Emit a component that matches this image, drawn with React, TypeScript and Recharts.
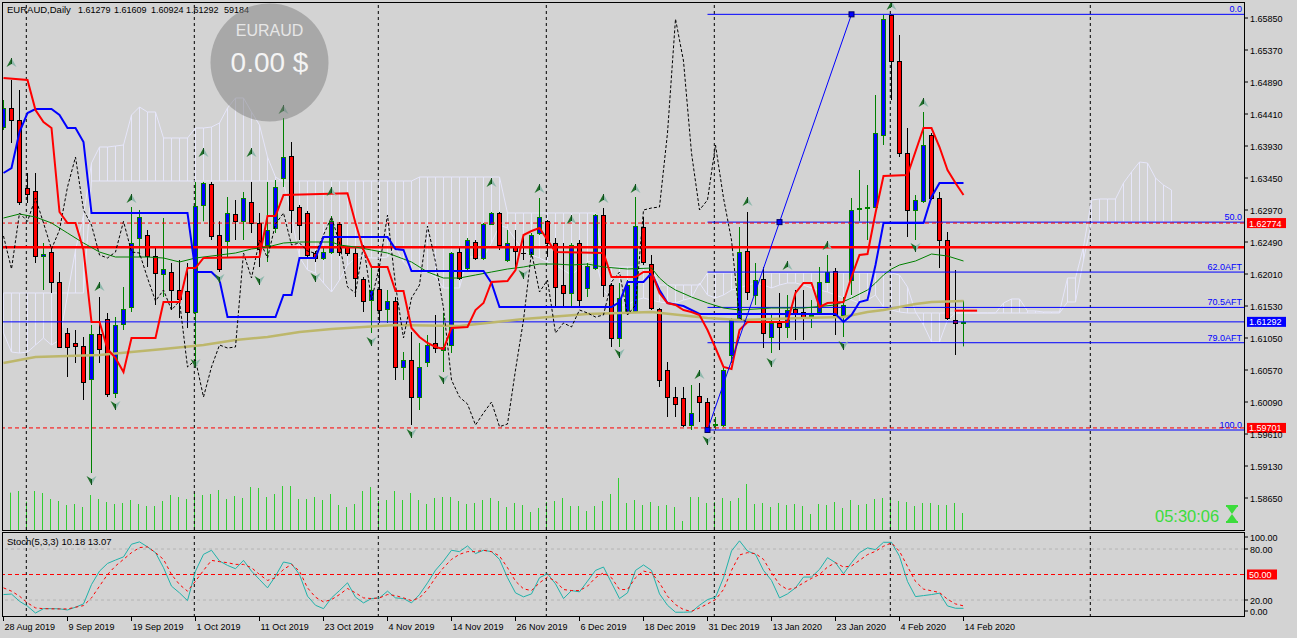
import React from "react";
import { ComposedChart, Bar, Line, XAxis, YAxis, ReferenceLine } from "recharts";

// EURAUD daily, MT4 style: candles + ichimoku + MAs + volumes, stochastic below

const BG = "#d3d3d3";
const FONT = "'Liberation Sans', Arial, sans-serif";
const KUMO = "#e6e6fa";

const CHART_W = 1297;
const MAIN_H = 531;
const STOCH_TOP = 532;
const STOCH_H = 106;
const AXIS_W = 53;
const X_DOMAIN: [number, number] = [-0.0625, 155.0625];
const PRICE_DOMAIN: [number, number] = [1.5817, 1.66075];
const VOL_DOMAIN: [number, number] = [0, 1834000];

const dateTicks = [0, 8, 16, 24, 32, 40, 48, 56, 64, 72, 80, 88, 96, 104, 112, 120];
const dateLabels = [
  "28 Aug 2019", "9 Sep 2019", "19 Sep 2019", "1 Oct 2019", "11 Oct 2019", "23 Oct 2019",
  "4 Nov 2019", "14 Nov 2019", "26 Nov 2019", "6 Dec 2019", "18 Dec 2019", "31 Dec 2019",
  "13 Jan 2020", "23 Jan 2020", "4 Feb 2020", "14 Feb 2020",
];
// first bar of each month (vertical grid)
const monthStarts = [3, 24, 47, 68, 89, 111, 136];

const priceTicks = [
  1.5865, 1.5913, 1.5961, 1.6009, 1.6057, 1.6105, 1.6153, 1.6201,
  1.6249, 1.6297, 1.6345, 1.6393, 1.6441, 1.6489, 1.6537, 1.6585,
];

// header: symbol, then O H L C and volume of the last bar
const headerParts = ["EURAUD,Daily", "1.61279", "1.61609", "1.60924", "1.61292", "59184"];
const headerX = [7, 78, 114, 151, 186, 224];

// open, high, low, close
const candles: number[][] = [
  [1.64215, 1.6462, 1.6417, 1.645], [1.645, 1.6492, 1.63975, 1.6432], [1.6432, 1.6477, 1.63045, 1.6309],
  [1.633, 1.63525, 1.63075, 1.6321], [1.63255, 1.63525, 1.62175, 1.6228], [1.6228, 1.62475, 1.6177, 1.6231],
  [1.6234, 1.62415, 1.61725, 1.6189], [1.6189, 1.6204, 1.609, 1.60915], [1.61125, 1.612, 1.60465, 1.60915],
  [1.60975, 1.6117, 1.60675, 1.6093], [1.6093, 1.61065, 1.6012, 1.6039], [1.60435, 1.61245, 1.59025, 1.6111],
  [1.6111, 1.61665, 1.60675, 1.60885], [1.61335, 1.61425, 1.60165, 1.6021], [1.60225, 1.61365, 1.6015, 1.61245],
  [1.6126, 1.61815, 1.6117, 1.61485], [1.61515, 1.63015, 1.6144, 1.62475], [1.6255, 1.6297, 1.62265, 1.62865],
  [1.62595, 1.6267, 1.62115, 1.6228], [1.6228, 1.62415, 1.61545, 1.62025], [1.6201, 1.6285, 1.61665, 1.62085],
  [1.6204, 1.62175, 1.6147, 1.6177], [1.6177, 1.6222, 1.6135, 1.61635], [1.61755, 1.62175, 1.612, 1.6144],
  [1.6144, 1.6339, 1.60615, 1.6303], [1.63045, 1.6339, 1.628, 1.63375], [1.6336, 1.6339, 1.6252, 1.6258],
  [1.62595, 1.628, 1.6204, 1.62085], [1.62505, 1.63165, 1.62265, 1.62925], [1.6291, 1.6312, 1.6252, 1.628],
  [1.628, 1.6324, 1.6252, 1.6315], [1.6309, 1.6339, 1.62625, 1.62775], [1.62775, 1.62925, 1.62115, 1.62385],
  [1.62445, 1.6339, 1.6219, 1.6267], [1.627, 1.6342, 1.62625, 1.63315], [1.6345, 1.6435, 1.63315, 1.63765],
  [1.6378, 1.6399, 1.62625, 1.6297], [1.63015, 1.63045, 1.6252, 1.62745], [1.62925, 1.62955, 1.62265, 1.62295],
  [1.62325, 1.62355, 1.6219, 1.6225], [1.6225, 1.62415, 1.6222, 1.6234], [1.6234, 1.6288, 1.6231, 1.628],
  [1.6276, 1.6279, 1.6228, 1.6234], [1.62415, 1.6243, 1.6228, 1.62325], [1.62325, 1.624, 1.61665, 1.6195],
  [1.61935, 1.61965, 1.6144, 1.61605], [1.6162, 1.621, 1.61125, 1.6177], [1.61785, 1.621, 1.61275, 1.6147],
  [1.61485, 1.6177, 1.61275, 1.61605], [1.61605, 1.61665, 1.6042, 1.60615], [1.60615, 1.6084, 1.6042, 1.6072],
  [1.6072, 1.6114, 1.59745, 1.60165], [1.60165, 1.60975, 1.5997, 1.60615], [1.6069, 1.61095, 1.60615, 1.60945],
  [1.60975, 1.61395, 1.60825, 1.609], [1.6087, 1.61425, 1.6054, 1.60915], [1.60945, 1.6234, 1.60825, 1.62325],
  [1.6234, 1.624, 1.6192, 1.6195], [1.621, 1.6255, 1.6207, 1.6252], [1.6249, 1.6252, 1.6222, 1.6225],
  [1.6225, 1.62775, 1.6222, 1.6276], [1.6276, 1.6294, 1.62745, 1.62925], [1.62925, 1.6294, 1.6237, 1.62445],
  [1.6222, 1.6267, 1.6219, 1.62475], [1.62415, 1.6267, 1.6207, 1.62355], [1.62325, 1.62565, 1.6222, 1.6232],
  [1.6231, 1.62625, 1.62265, 1.62595], [1.62625, 1.6315, 1.62595, 1.62865], [1.62805, 1.6282, 1.62265, 1.62475],
  [1.62475, 1.6255, 1.61515, 1.61815], [1.61845, 1.62475, 1.61515, 1.61725], [1.61725, 1.62475, 1.61515, 1.62445],
  [1.62475, 1.6252, 1.61515, 1.6162], [1.618, 1.62175, 1.61665, 1.6213], [1.621, 1.6291, 1.6207, 1.62895],
  [1.62895, 1.63, 1.61665, 1.61845], [1.61845, 1.61875, 1.60915, 1.6105], [1.6105, 1.61875, 1.60915, 1.6165],
  [1.6144, 1.6192, 1.61395, 1.61845], [1.61455, 1.63165, 1.6144, 1.6273], [1.62715, 1.62865, 1.62145, 1.6219],
  [1.6216, 1.62295, 1.6147, 1.615], [1.61485, 1.615, 1.60315, 1.6042], [1.6057, 1.6069, 1.59865, 1.60165],
  [1.60165, 1.60315, 1.59865, 1.6006], [1.6015, 1.60315, 1.59715, 1.59745], [1.59745, 1.60345, 1.5967, 1.59925],
  [1.6018, 1.60375, 1.5979, 1.6009], [1.6009, 1.6015, 1.5967, 1.5972], [1.59745, 1.59865, 1.5967, 1.5976],
  [1.59745, 1.606, 1.59715, 1.6057], [1.60795, 1.6135, 1.60675, 1.6132], [1.6135, 1.62715, 1.6132, 1.6234],
  [1.62355, 1.6294, 1.6162, 1.6174], [1.61695, 1.62175, 1.61545, 1.6192], [1.61935, 1.62115, 1.609, 1.61125],
  [1.61065, 1.61425, 1.60825, 1.61275], [1.61275, 1.61725, 1.6087, 1.61215], [1.61215, 1.61695, 1.6105, 1.6147],
  [1.61485, 1.6177, 1.6102, 1.61425], [1.6144, 1.6177, 1.6102, 1.61365], [1.6138, 1.6162, 1.612, 1.61395],
  [1.6144, 1.62115, 1.61395, 1.6189], [1.6189, 1.62295, 1.61875, 1.6204], [1.62055, 1.621, 1.61095, 1.61395],
  [1.61395, 1.61665, 1.61065, 1.61545], [1.6192, 1.6315, 1.61695, 1.6297], [1.62985, 1.6357, 1.628, 1.63],
  [1.63, 1.63345, 1.6252, 1.63015], [1.63015, 1.64695, 1.63, 1.64125], [1.64095, 1.65895, 1.63945, 1.65835],
  [1.65895, 1.65905, 1.6462, 1.65205], [1.65205, 1.65595, 1.63765, 1.63825], [1.63825, 1.642, 1.62565, 1.6297],
  [1.6297, 1.63195, 1.6252, 1.6312], [1.63105, 1.6444, 1.63075, 1.63945], [1.64095, 1.64125, 1.6312, 1.6315],
  [1.6315, 1.6324, 1.621, 1.6252], [1.6252, 1.6264, 1.6132, 1.6135], [1.6132, 1.6207, 1.60795, 1.6128],
  [1.61279, 1.61609, 1.60924, 1.61292],
];

const volumes: (number | null)[] = [
  null,
  130000, 135700, 98600, 135700, 128800, 107900, 100900, 87000, 90500, 80000,
  121800, 107900, 97400, 90500, 94000, 104400, 90500, 83500, 83500, 100900,
  121800, 114800, 107900, 128800, 121800, 125300, 139200, 107900, 118300, 111400,
  149600, 146200, 114800, 125300, 153100, 153100, 107900, 107900, 114800, 104400,
  125300, 87000, 80000, 90500, 135700, 149600, 100900, 104400, 135700, 104400,
  128800, 104400, 90500, 111400, 114800, 114800, 100900, 90500, 94000, 104400,
  111400, 100900, 80000, 94000, 87000, 62600, 76600, 97400, 100900, 111400,
  83500, 83500, 66100, 83500, 100900, 125300, 181000, 94000, 104400, 87000,
  97400, 83500, 87000, 80000, 31300, 114800, 114800, 94000, 97400, 111400,
  100900, 111400, 160100, 90500, 94000, 80000, 94000, 87000, 90500, 83500,
  55700, 90500, 87000, 97400, 76600, 104400, 87000, 90500, 107900, 111400,
  111400, 100900, 97400, 83500, 94000, 94000, 87000, 87000, 94000, 59184,
];

// Senkou spans (already shifted 26 bars ahead)
const kumoA = [
  1.61725, 1.61725, 1.61725, 1.61725, 1.61725, 1.61725, 1.61725, 1.61725, 1.61725, 1.61725, 1.61725,
  1.63405, 1.63405, 1.63405, 1.63405, 1.63405, 1.63405, 1.63405, 1.63405, 1.63405, 1.63405,
  1.63405, 1.63405, 1.63405, 1.63405, 1.63405, 1.63405, 1.63405, 1.63405, 1.63405, 1.63405,
  1.63405, 1.63405, 1.63405, 1.63405, 1.63405, 1.63405, 1.63405, 1.63405, 1.63405, 1.63405,
  1.63405, 1.63405, 1.63405, 1.63405, 1.63405, 1.63405, 1.63405, 1.63405, 1.63405, 1.63405, 1.63405,
  1.63465, 1.63465, 1.63465, 1.63465, 1.63465, 1.63465, 1.63465, 1.63465, 1.63465, 1.63465, 1.63465,
  1.62925, 1.62925, 1.62925, 1.62925, 1.62925, 1.62925, 1.62925, 1.62925, 1.62925, 1.62925, 1.62925, 1.62925,
  1.62115, 1.62115, 1.62115, 1.62115, 1.62115, 1.62115, 1.62115,
  1.61845, 1.61845, 1.61845, 1.61845, 1.61845, 1.61845,
  1.62025, 1.62025, 1.62025, 1.62025, 1.62025, 1.62025, 1.62025, 1.62025, 1.62025, 1.62025, 1.62025,
  1.62025, 1.62025, 1.62025, 1.62025, 1.62025, 1.62025, 1.62025, 1.62025, 1.62025, 1.62025, 1.62025,
  1.6204, 1.62025, 1.61995, 1.61815, 1.6144, 1.61245, 1.6099, 1.6099, 1.6132, 1.61425,
  1.61425, 1.61425, 1.61425, 1.61425, 1.61425,
  1.61575, 1.61635, 1.61635, 1.61455, 1.61455, 1.6144, 1.6144, 1.6144, 1.6195, 1.6195, 1.62415,
  1.6312, 1.63135, 1.63135, 1.63135, 1.63375, 1.6354, 1.6369, 1.63675, 1.6345, 1.63345, 1.6327,
];
const kumoB = [
  1.61125, 1.6084, 1.60825, 1.6084, 1.60945, 1.6105, 1.60945, 1.6102, 1.61695, 1.6237,
  1.62895, 1.63675, 1.63915, 1.63915, 1.6393, 1.63945, 1.64395, 1.64515, 1.6444, 1.6444,
  1.6405, 1.6405, 1.6405, 1.6405, 1.642, 1.642, 1.64215, 1.64275, 1.645, 1.6465,
  1.6465, 1.6444, 1.64245, 1.63765, 1.63465, 1.6339, 1.62865, 1.62265, 1.6207, 1.62025,
  1.61875, 1.6174, 1.6192, 1.62145, 1.6225, 1.62265, 1.6225, 1.6225, 1.62265, 1.62415,
  1.6219, 1.6207, 1.6204, 1.6204, 1.61965, 1.618, 1.618, 1.618, 1.62265, 1.62265,
  1.62265, 1.62475, 1.62745, 1.627, 1.6252, 1.6237, 1.62295, 1.6225, 1.6219, 1.62145,
  1.6207, 1.61995, 1.621, 1.6219, 1.6222, 1.6177, 1.6162, 1.61545, 1.61545, 1.6162,
  1.6165, 1.6162, 1.6159, 1.61575, 1.61575, 1.6162, 1.6165, 1.61875, 1.61695, 1.6165,
  1.61695, 1.6177, 1.618, 1.61845, 1.61875, 1.61845, 1.618, 1.61845, 1.61875, 1.61875,
  1.61845, 1.618, 1.6177, 1.6174, 1.61695, 1.6165, 1.6162, 1.61575, 1.6162, 1.61695,
  1.61515, 1.6147, 1.6144, 1.61425, 1.61425, 1.61425, 1.61425, 1.61425, 1.61425, 1.61425,
  1.61425, 1.61425, 1.61425, 1.61425, 1.61425, 1.61425, 1.61425, 1.61425, 1.61425, 1.61425,
  1.61425, 1.61425, 1.61425, 1.6159, 1.6159, 1.6222,
  1.6279, 1.6279, 1.6279, 1.6279, 1.6279, 1.6279, 1.6279, 1.6279, 1.6279, 1.6279, 1.6279,
];

// [bar, price] vertices
const tenkan = [
  [0, 1.6495], [3, 1.6492], [4, 1.6447], [5, 1.6429], [6, 1.642], [7, 1.6294], [8, 1.62775], [9, 1.62775],
  [10, 1.6237], [11, 1.6129], [12, 1.6129], [13, 1.60885], [14, 1.6075], [15, 1.6054], [16, 1.6105], [19, 1.6105],
  [20, 1.6159], [22, 1.6159], [23, 1.621], [24, 1.621], [25, 1.6225], [32, 1.62265], [33, 1.6288], [34, 1.6288],
  [35, 1.63195], [43, 1.6322], [44, 1.62775], [45, 1.6237], [46, 1.62115], [48, 1.62115], [49, 1.61755],
  [50, 1.61755], [51, 1.612], [52, 1.61065], [53, 1.60975], [54, 1.60915], [55, 1.60885], [56, 1.612],
  [58, 1.61215], [59, 1.6147], [60, 1.61575], [61, 1.6189], [63, 1.61905], [64, 1.6207], [65, 1.62595],
  [66, 1.62655], [67, 1.627], [68, 1.6252], [69, 1.6234], [75, 1.62325], [76, 1.61965], [79, 1.61965],
  [80, 1.6204], [81, 1.6204], [82, 1.61725], [83, 1.61575], [84, 1.61545], [85, 1.6147], [86, 1.6144],
  [87, 1.61395], [88, 1.6117], [89, 1.609], [90, 1.60615], [91, 1.60585], [92, 1.6117], [93, 1.6129],
  [98, 1.6129], [99, 1.61725], [100, 1.61875], [101, 1.61875], [102, 1.61515], [103, 1.61575], [105, 1.6159],
  [106, 1.61965], [107, 1.62295], [108, 1.6231], [109, 1.62925], [110, 1.6348], [113, 1.63495], [115, 1.642],
  [116, 1.642], [117, 1.63915], [118, 1.6357], [119, 1.63375], [120, 1.63195],
];
const kijun = [
  [0, 1.63525], [1, 1.636], [2, 1.6414], [3, 1.64425], [4, 1.64485], [6, 1.64485], [7, 1.64395], [8, 1.642],
  [9, 1.642], [10, 1.6399], [11, 1.62925], [23, 1.62925], [24, 1.6204], [26, 1.6204], [27, 1.6192], [28, 1.61365],
  [34, 1.61365], [35, 1.61695], [36, 1.61695], [37, 1.6225], [39, 1.6225], [40, 1.62565], [48, 1.62565],
  [49, 1.62385], [50, 1.6237], [51, 1.62055], [60, 1.62055], [61, 1.61875], [62, 1.61515], [76, 1.61515],
  [77, 1.6159], [78, 1.6189], [80, 1.6189], [81, 1.62025], [82, 1.6177], [83, 1.61575], [85, 1.6153],
  [87, 1.6141], [104, 1.6141], [105, 1.6129], [106, 1.61395], [107, 1.6159], [108, 1.6162], [109, 1.62145],
  [110, 1.62775], [115, 1.62775], [116, 1.63165], [117, 1.63375], [120, 1.63375],
];
const maFast = [
  [0, 1.6285], [2, 1.6291], [4, 1.62865], [6, 1.62775], [8, 1.62625], [10, 1.62475], [12, 1.6234], [14, 1.62265],
  [18, 1.62265], [20, 1.6225], [22, 1.6219], [24, 1.6225], [27, 1.62295], [29, 1.62325], [31, 1.62385],
  [33, 1.62415], [35, 1.62475], [37, 1.6249], [41, 1.6249], [42, 1.62445], [44, 1.62415], [46, 1.6237],
  [48, 1.62325], [51, 1.6219], [53, 1.6204], [55, 1.6195], [57, 1.6195], [59, 1.61995], [61, 1.6204],
  [63, 1.62085], [65, 1.62115], [67, 1.6216], [69, 1.6216], [71, 1.62145], [73, 1.6216], [75, 1.62115],
  [78, 1.62085], [81, 1.621], [82, 1.6195], [83, 1.61845], [84, 1.6177], [86, 1.61665], [88, 1.61575],
  [90, 1.615], [92, 1.6147], [96, 1.615], [100, 1.615], [104, 1.61545], [106, 1.6165], [108, 1.6177],
  [109, 1.61875], [110, 1.61995], [111, 1.62085], [112, 1.62145], [114, 1.62205], [116, 1.6231], [118, 1.6228],
  [120, 1.62205],
];
const maSlow = [
  [0, 1.60675], [4, 1.60765], [8, 1.6078], [12, 1.60795], [16, 1.6084], [20, 1.60885], [25, 1.60945],
  [29, 1.6102], [33, 1.61065], [37, 1.6114], [41, 1.61185], [49, 1.61245], [57, 1.6123], [65, 1.61335],
  [73, 1.6141], [81, 1.6144], [88, 1.6135], [92, 1.6132], [100, 1.6135], [105, 1.61365], [108, 1.6144],
  [110, 1.6147], [114, 1.6156], [116, 1.6159], [120, 1.61605],
];

const upArrows = [
  [1, 1.65175], [12, 1.61815], [16, 1.63135], [25, 1.63825], [31, 1.63825], [35, 1.6447], [41, 1.6324],
  [61, 1.63375], [67, 1.63285], [71, 1.6282], [75, 1.63135], [79, 1.63285], [87, 1.60495], [93, 1.6309],
  [98, 1.6213], [103, 1.6243], [111, 1.6603], [115, 1.64575],
];
const downArrows = [
  [11, 1.5892], [14, 1.60045], [24, 1.60675], [27, 1.6195], [32, 1.6192], [39, 1.61965], [46, 1.61005],
  [51, 1.59625], [55, 1.60435], [65, 1.6201], [77, 1.60825], [88, 1.5952], [96, 1.6069], [105, 1.60945],
  [114, 1.62415],
];

const fibLabels = ["0.0", "50.0", "62.0AFT", "70.5AFT", "79.0AFT", "100.0"];
const fibPrices = [1.65905, 1.62788, 1.62039, 1.61509, 1.60979, 1.5967];
const fibStartBar = 88;
const trendPoints = [[88, 1.5967], [97, 1.62788], [106, 1.65905]];

const bidPrice = 1.61292;
const resistance = 1.62774;
const support = 1.59701;
const pivotLine = 1.6241;
const dailyOpenMark = { from: 118.9, to: 121.7, price: 1.6146 };

const stochMain = [
  26.4, 27, 18.5, 12.7, 4.7, 9.8, 9.8, 9.6, 8.3, 11.5,
  15.4, 38.2, 54, 63, 67, 70.7, 85.6, 88.4, 82.5, 75.7,
  58, 36.3, 28.4, 19.3, 54, 73.7, 78.5, 65.9, 60.7, 56.8,
  66.6, 54, 44.1, 34.3, 48.2, 64.7, 62.7, 50, 24.5, 13.8,
  9.8, 22.5, 31.1, 40.2, 23.3, 16.6, 21.7, 22.5, 30.4, 22.5,
  21.7, 16.6, 26.4, 40.2, 55, 65.9, 78.5, 76.9, 83.6, 74.6,
  78.5, 76.9, 67.8, 46.2, 28.4, 23.7, 27.2, 46.2, 50.9, 39,
  21.7, 31.1, 29.6, 42.2, 54.8, 58.8, 40.2, 21.7, 28.4, 54.8,
  61.2, 54.8, 27.2, 13.8, 5.6, 5.6, 6, 13.8, 20.5, 23.3,
  46.2, 77.7, 89.6, 77.7, 73.7, 54.8, 43, 22.5, 27.2, 34.3,
  47, 47, 56, 69.8, 63.9, 50.9, 63.9, 75.7, 81.3, 79.3,
  87.9, 87.9, 71.4, 41.8, 24, 25.2, 26.4, 28, 13, 10.3, 10.18,
];
const stochSignal = [
  34.3, 30.4, 24.5, 16.6, 10.7, 9.8, 9.6, 9.5, 9.5, 11.5,
  13.4, 22.5, 36.3, 50, 60, 67.8, 75.7, 81.7, 82.5, 75.7,
  67.8, 50, 38.2, 30.4, 42.2, 54.8, 66.6, 65.1, 63.9, 61.9,
  61.9, 58, 50, 43, 46.2, 56, 61.9, 54, 34.3, 23.3,
  17.8, 20.5, 26.4, 33.5, 28.4, 22.5, 21.7, 22.5, 26.4, 25.2,
  22.5, 19.3, 22.5, 32.3, 46.2, 58, 67.8, 73.7, 76.9, 76.9,
  78.5, 76.9, 71.8, 58, 42.2, 33.1, 31.1, 40.2, 47, 42.2,
  32.3, 31.1, 31.1, 36.3, 46.2, 52, 46.2, 32.3, 32.3, 46.2,
  54, 52, 40.2, 24.5, 14.6, 8.7, 6.7, 10.7, 15.4, 20.5,
  32.3, 54.8, 73, 75.7, 74.6, 67.8, 52, 38.2, 32.3, 34.3,
  40.2, 45.4, 50, 58.8, 63.9, 58.8, 60, 66.6, 73.4, 77.3,
  83.2, 87.2, 77.3, 59.5, 41.8, 32.8, 30.8, 28.8, 20.9, 15.4, 13.07,
];
const stochTicks = [0, 20, 50, 80, 100];

// ---------- tables for the library ----------
const rows = kumoA.map((a, i) => {
  const k = candles[i];
  const lagged = candles[i + 26];
  return {
    i,
    o: k ? k[0] : null,
    h: k ? k[1] : null,
    l: k ? k[2] : null,
    c: k ? k[3] : null,
    vol: i < volumes.length ? volumes[i] : null,
    kA: a,
    kB: kumoB[i],
    chikou: lagged ? lagged[3] : null,
  };
});
const candleRows = rows.slice(0, candles.length);
const pts = (arr: number[][]) => arr.map(([i, v]) => ({ i, v }));
const stochRows = stochMain.map((k, i) => ({ i, k, d: stochSignal[i] }));

// ---------- shapes ----------
const CandleShape = (props: any) => {
  const { x, y, width, height, payload } = props;
  if (!payload || payload.h == null || height == null) return null;
  const { o, h, l, c } = payload;
  const span = h - l;
  const toY = (p: number) => (span > 0 ? y + ((h - p) / span) * height : y);
  const left = Math.round(x);
  const cx = left + width / 2;
  const up = c >= o;
  const top = Math.round(toY(Math.max(o, c)));
  const bot = Math.round(toY(Math.min(o, c)));
  const edge = up ? "#008000" : "#000000";
  const fill = up ? "#0000ff" : "#ff0000";
  return (
    <g>
      <line x1={cx} x2={cx} y1={y} y2={y + height} stroke={edge} strokeWidth={1} />
      {bot - top < 1 ? (
        <line x1={left} x2={left + width} y1={top + 0.5} y2={top + 0.5} stroke={edge} strokeWidth={1} />
      ) : (
        <rect x={left + 0.5} y={top + 0.5} width={width - 1} height={bot - top} fill={fill} stroke={edge} strokeWidth={1} />
      )}
    </g>
  );
};

const HatchShape = (props: any) => {
  const { x, y, width, height } = props;
  if (height == null || isNaN(y)) return null;
  const cx = Math.floor(x + width / 2) + 0.5;
  return <line x1={cx} x2={cx} y1={y} y2={y + height} stroke={KUMO} strokeWidth={1} />;
};

const VolumeShape = (props: any) => {
  const { x, y, width, height } = props;
  if (!height || isNaN(y)) return null;
  return <rect x={Math.floor(x + width / 2) - 1} y={y} width={1} height={height} fill="#32cd32" />;
};

const Arrow = ({ cx, cy, up }: { cx: number; cy: number; up: boolean }) => {
  const s = up ? 1 : -1;
  const tip = cy - 5 * s;
  const notch = cy + 1 * s;
  const wing = cy + 4 * s;
  return (
    <g>
      <path d={`M${cx},${tip} L${cx},${notch} L${cx - 5},${wing} Z`} fill="#1f6f2a" />
      <path d={`M${cx},${tip} L${cx + 5},${wing} L${cx},${notch} Z`} fill="#8fb9ad" />
      <line x1={cx} x2={cx} y1={tip} y2={notch} stroke="#0f4f1a" strokeWidth={1} />
    </g>
  );
};

const PriceTag = (props: any) => {
  const { viewBox, text, bg } = props;
  if (!viewBox) return null;
  const x = viewBox.x + viewBox.width + 3;
  const y = viewBox.y;
  return (
    <g>
      <rect x={x} y={y - 5} width={39} height={10} fill={bg} />
      <text x={x + 2} y={y + 3.5} fontSize={9} fill="#ffffff" fontFamily={FONT}>
        {text}
      </text>
    </g>
  );
};

const FibLabel = (props: any) => {
  const { viewBox, text } = props;
  if (!viewBox) return null;
  return (
    <text x={viewBox.x + viewBox.width - 2} y={viewBox.y - 2} textAnchor="end" fontSize={9} fill="#0000ff" fontFamily={FONT}>
      {text}
    </text>
  );
};

const PriceTick = (props: any) => {
  const { x, y, payload } = props;
  return (
    <g>
      <line x1={x} x2={x + 4} y1={y} y2={y} stroke="#000" />
      <text x={x + 6} y={y + 3.5} fontSize={9} fill="#000" fontFamily={FONT}>
        {Number(payload.value).toFixed(5)}
      </text>
    </g>
  );
};

const StochTick = (props: any) => {
  const { x, payload } = props;
  const v = payload.value;
  let y = props.y;
  if (v === 100) y += 5;
  if (v === 0) y -= 6;
  if (v === 50) {
    return (
      <g>
        <rect x={x + 3} y={y - 5} width={30} height={10} fill="#ff0000" />
        <text x={x + 5} y={y + 3.5} fontSize={9} fill="#fff" fontFamily={FONT}>
          {v.toFixed(2)}
        </text>
      </g>
    );
  }
  return (
    <g>
      <line x1={x} x2={x + 4} y1={y} y2={y} stroke="#000" />
      <text x={x + 6} y={y + 3.5} fontSize={9} fill="#000" fontFamily={FONT}>
        {v.toFixed(2)}
      </text>
    </g>
  );
};

const DateTick = (props: any) => {
  const { x, y, payload } = props;
  const label = dateLabels[dateTicks.indexOf(payload.value)];
  return (
    <g>
      <line x1={x} x2={x} y1={y} y2={y + 4} stroke="#000" />
      <text x={x + 1} y={y + 13} fontSize={9} fill="#000" fontFamily={FONT}>
        {label}
      </text>
    </g>
  );
};

const hiddenAxes = (domain: [number, number]) => [
  <XAxis key="x" dataKey="i" type="number" domain={X_DOMAIN} allowDataOverflow hide />,
  <YAxis key="y" type="number" domain={domain} allowDataOverflow hide />,
];

const gridLines = monthStarts.map((m) => (
  <ReferenceLine key={`g${m}`} x={m - 0.15} stroke="#000" strokeDasharray="3 3" />
));

const layer: React.CSSProperties = { position: "absolute", left: 0, top: 0 };
const mainMargin = { top: 3, right: AXIS_W, bottom: 1, left: 3 };

export default function App() {
  return (
    <div style={{ position: "absolute", left: 0, top: 0, width: CHART_W, height: 638, background: BG, overflow: "hidden", fontFamily: FONT }}>
      {/* volumes + grid */}
      <div style={layer}>
        <ComposedChart width={CHART_W} height={MAIN_H} data={candleRows} margin={mainMargin}>
          {hiddenAxes(VOL_DOMAIN)}
          {gridLines}
          <Bar dataKey="vol" barSize={1} shape={<VolumeShape />} isAnimationActive={false} />
        </ComposedChart>
      </div>

      {/* ichimoku cloud */}
      <div style={layer}>
        <ComposedChart width={CHART_W} height={MAIN_H} data={rows} margin={mainMargin}>
          {hiddenAxes(PRICE_DOMAIN)}
          <Bar
            dataKey={(d: any) => [Math.min(d.kA, d.kB), Math.max(d.kA, d.kB)]}
            barSize={1}
            shape={<HatchShape />}
            isAnimationActive={false}
          />
          <Line dataKey="kA" stroke={KUMO} strokeWidth={1} dot={false} activeDot={false} isAnimationActive={false} />
          <Line dataKey="kB" stroke={KUMO} strokeWidth={1} dot={false} activeDot={false} isAnimationActive={false} />
        </ComposedChart>
      </div>

      {/* candles */}
      <div style={layer}>
        <ComposedChart width={CHART_W} height={MAIN_H} data={candleRows} margin={mainMargin}>
          {hiddenAxes(PRICE_DOMAIN)}
          <Bar dataKey={(d: any) => [d.l, d.h]} barSize={5} shape={<CandleShape />} isAnimationActive={false} />
        </ComposedChart>
      </div>

      {/* indicators, levels, price axis */}
      <div style={layer}>
        <ComposedChart width={CHART_W} height={MAIN_H} data={rows} margin={{ top: 3, right: 0, bottom: 1, left: 3 }}>
          <XAxis dataKey="i" type="number" domain={X_DOMAIN} allowDataOverflow hide />
          <YAxis
            type="number"
            orientation="right"
            width={AXIS_W}
            domain={PRICE_DOMAIN}
            allowDataOverflow
            ticks={priceTicks}
            interval={0}
            tick={<PriceTick />}
            tickLine={false}
            axisLine={false}
            tickSize={0}
            tickMargin={0}
          />
          {fibPrices.map((p, k) => (
            <ReferenceLine
              key={`f${k}`}
              segment={[{ x: fibStartBar, y: p }, { x: X_DOMAIN[1], y: p }]}
              stroke="#0000ff"
              strokeWidth={1}
              label={<FibLabel text={fibLabels[k]} />}
            />
          ))}
          <ReferenceLine y={bidPrice} stroke="#0000ff" strokeWidth={1} label={<PriceTag text="1.61292" bg="#0000ff" />} />
          <ReferenceLine y={resistance} stroke="#ff0000" strokeDasharray="4 3" label={<PriceTag text="1.62774" bg="#ff0000" />} />
          <ReferenceLine y={support} stroke="#ff0000" strokeDasharray="4 3" label={<PriceTag text="1.59701" bg="#ff0000" />} />
          <ReferenceLine y={pivotLine} stroke="#ff0000" strokeWidth={2.5} />
          <ReferenceLine
            segment={[{ x: dailyOpenMark.from, y: dailyOpenMark.price }, { x: dailyOpenMark.to, y: dailyOpenMark.price }]}
            stroke="#ff0000"
            strokeWidth={2}
          />

          <Line data={pts(maSlow)} dataKey="v" stroke="#bdb76b" strokeWidth={2.5} dot={false} activeDot={false} isAnimationActive={false} />
          <Line data={pts(maFast)} dataKey="v" stroke="#008000" strokeWidth={1} dot={false} activeDot={false} isAnimationActive={false} />
          <Line dataKey="chikou" stroke="#000" strokeWidth={1} strokeDasharray="3 2" dot={false} activeDot={false} isAnimationActive={false} />
          <Line data={pts(kijun)} dataKey="v" stroke="#0000ff" strokeWidth={2} dot={false} activeDot={false} isAnimationActive={false} />
          <Line data={pts(tenkan)} dataKey="v" stroke="#ff0000" strokeWidth={2} dot={false} activeDot={false} isAnimationActive={false} />
          <Line
            data={pts(trendPoints)}
            dataKey="v"
            stroke="#0000ff"
            strokeWidth={1}
            activeDot={false}
            isAnimationActive={false}
            dot={(p: any) => (
              <rect key={`t${p.index}`} x={p.cx - 2.5} y={p.cy - 2.5} width={5} height={5} fill="#0000ff" stroke="#000060" strokeWidth={1} />
            )}
          />
          <Line
            data={pts(upArrows)}
            dataKey="v"
            stroke="none"
            activeDot={false}
            isAnimationActive={false}
            dot={(p: any) => <Arrow key={`u${p.index}`} cx={p.cx} cy={p.cy} up />}
          />
          <Line
            data={pts(downArrows)}
            dataKey="v"
            stroke="none"
            activeDot={false}
            isAnimationActive={false}
            dot={(p: any) => <Arrow key={`d${p.index}`} cx={p.cx} cy={p.cy} up={false} />}
          />
        </ComposedChart>
      </div>

      {/* panel borders */}
      <div style={{ position: "absolute", left: 2, top: 2, width: 1241, height: 527, border: "1px solid #000", pointerEvents: "none" }} />
      <div style={{ position: "absolute", left: 2, top: STOCH_TOP, width: 1241, height: 83, border: "1px solid #000", pointerEvents: "none" }} />

      {/* stochastic */}
      <div style={{ position: "absolute", left: 0, top: STOCH_TOP }}>
        <ComposedChart width={CHART_W} height={STOCH_H} data={stochRows} margin={{ top: 0, right: 0, bottom: 0, left: 3 }}>
          <XAxis
            dataKey="i"
            type="number"
            domain={X_DOMAIN}
            allowDataOverflow
            ticks={dateTicks}
            interval={0}
            height={21}
            tick={<DateTick />}
            tickLine={false}
            axisLine={false}
            tickSize={0}
            tickMargin={0}
          />
          <YAxis
            type="number"
            orientation="right"
            width={AXIS_W}
            domain={[0, 100]}
            allowDataOverflow
            ticks={stochTicks}
            interval={0}
            tick={<StochTick />}
            tickLine={false}
            axisLine={false}
            tickSize={0}
            tickMargin={0}
          />
          {gridLines}
          <ReferenceLine y={80} stroke="#b4b4b4" strokeDasharray="3 3" />
          <ReferenceLine y={20} stroke="#b4b4b4" strokeDasharray="3 3" />
          <ReferenceLine y={50} stroke="#ff0000" strokeDasharray="4 3" />
          <Line dataKey="k" stroke="#20b2aa" strokeWidth={1} dot={false} activeDot={false} isAnimationActive={false} />
          <Line dataKey="d" stroke="#ff0000" strokeWidth={1} strokeDasharray="3 3" dot={false} activeDot={false} isAnimationActive={false} />
        </ComposedChart>
      </div>

      {/* overlay texts */}
      <svg width={CHART_W} height={638} style={{ position: "absolute", left: 0, top: 0, pointerEvents: "none" }}>
        {headerParts.map((t, k) => (
          <text key={t} x={headerX[k]} y={13} fontSize={k === 0 ? 9.5 : 9} fill="#000" fontFamily={FONT}>
            {t}
          </text>
        ))}
        <text x={7} y={545} fontSize={9.5} fill="#000" fontFamily={FONT}>
          Stoch(5,3,3) 10.18 13.07
        </text>
        <circle cx={269.5} cy={62.5} r={59} fill="rgba(128,128,128,0.52)" />
        <text x={269.5} y={36} textAnchor="middle" fontSize={16} fill="#e6e6e6" fontFamily={FONT}>
          EURAUD
        </text>
        <text x={269.5} y={72} textAnchor="middle" fontSize={28} fill="#f4f4f4" fontFamily={FONT}>
          0.00 $
        </text>
        <text x={1155} y={522} fontSize={16.5} fill="#3cdc3c" fontFamily={FONT}>
          05:30:06
        </text>
        <g fill="#3cdc3c">
          <rect x={1226} y={505} width={12} height={2} />
          <path d="M1227,507 L1237,507 L1232,514 Z" />
          <path d="M1232,514 L1227,521 L1237,521 Z" />
          <rect x={1226} y={521} width={12} height={2} />
        </g>
      </svg>
    </div>
  );
}
